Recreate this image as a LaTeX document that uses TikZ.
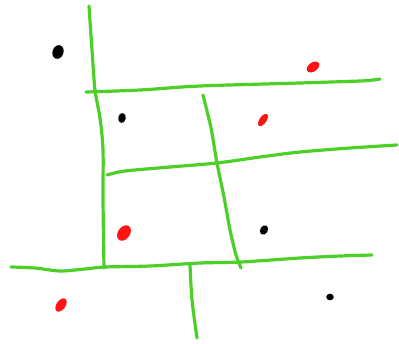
\documentclass[tikz,border=0pt]{standalone}
\definecolor{sketchgreen}{RGB}{76,208,40}
\definecolor{sketchred}{RGB}{255,20,20}
\tikzset{
  gline/.style={draw=sketchgreen, line width=2.4pt, line cap=round, line join=round},
  reddot/.style={fill=sketchred},
  blackdot/.style={fill=black}
}
\begin{document}
\begin{tikzpicture}[x=0.75pt,y=-0.75pt]
\useasboundingbox (0,0) rectangle (399,343);
% vertical left line
\draw[gline] plot[smooth, tension=0.5] coordinates {(89,6) (92,50) (95,90) (100,118) (103,150) (103,200) (104,268)};
% top horizontal
\draw[gline] plot[smooth, tension=0.5] coordinates {(86,92) (140,90) (200,86) (300,83) (360,81) (373,80) (380,79)};
% middle vertical
\draw[gline] plot[smooth, tension=0.5] coordinates {(203,95) (211,128) (217,163) (224,197) (230,230) (236,255) (241,268)};
% middle horizontal
\draw[gline] plot[smooth, tension=0.5] coordinates {(107,175) (125,171) (170,167) (217,163) (260,157) (300,152) (350,148) (397,145)};
% bottom horizontal
\draw[gline] plot[smooth, tension=0.5] coordinates {(11,267) (35,268) (60,271) (85,269) (105,267) (150,266) (200,263) (241,262) (300,258) (340,256) (372,255)};
% bottom vertical
\draw[gline] plot[smooth, tension=0.5] coordinates {(190,265) (192,300) (197,338)};
% black dots
\fill[blackdot, rotate around={-20:(58,52)}] (58,52) ellipse (5.5 and 7);
\fill[blackdot, rotate around={-10:(122,118)}] (122,118) ellipse (3.8 and 5);
\fill[blackdot, rotate around={-30:(264,230)}] (264,230) ellipse (3.8 and 5);
\fill[blackdot] (330,297) ellipse (3.8 and 3.3);
% red dots
\fill[reddot, rotate around={35:(313,67)}] (313,67) ellipse (7 and 4.5);
\fill[reddot, rotate around={55:(263,120)}] (263,120) ellipse (7 and 3.5);
\fill[reddot, rotate around={55:(124,233)}] (124,233) ellipse (8.5 and 6);
\fill[reddot, rotate around={55:(61,305)}] (61,305) ellipse (7.5 and 4.5);
\end{tikzpicture}
\end{document}
